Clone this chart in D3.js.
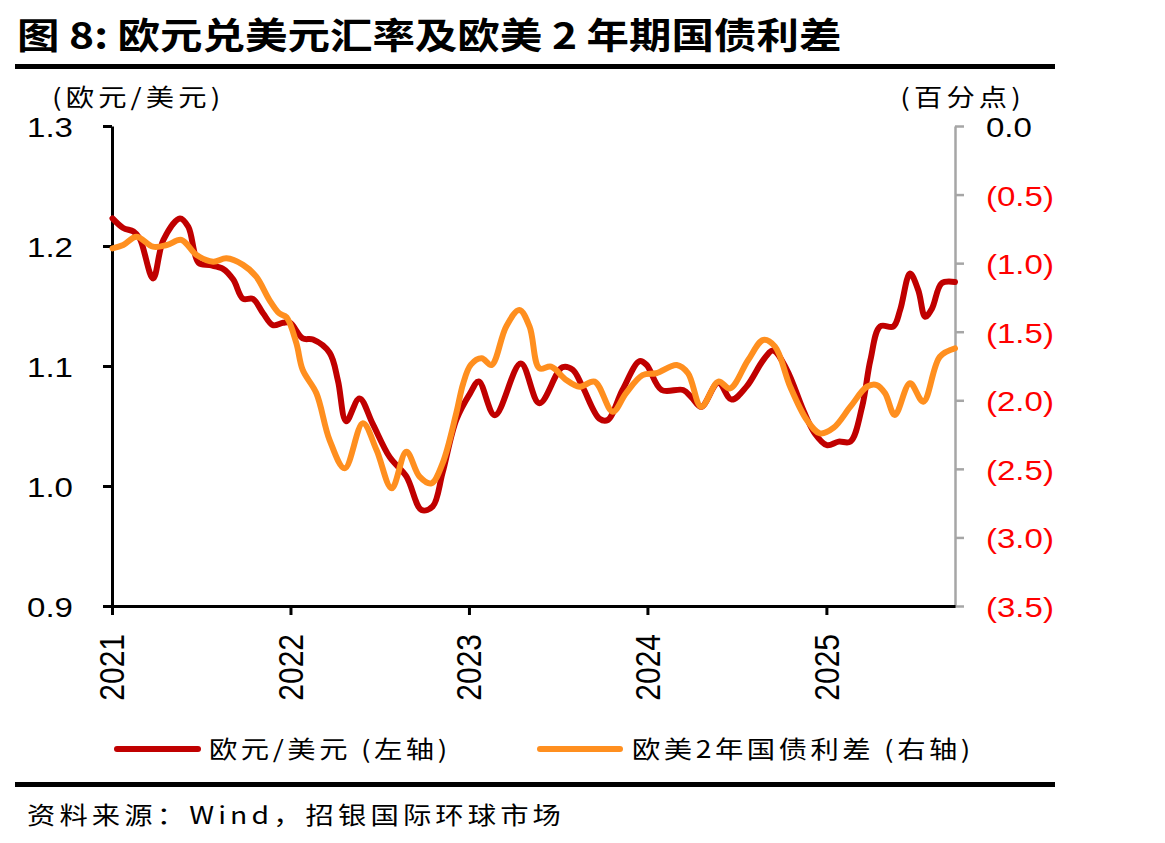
<!DOCTYPE html>
<html>
<head>
<meta charset="utf-8">
<script src="https://cdn.jsdelivr.net/npm/d3@7"></script>
<style>
  html, body { margin: 0; padding: 0; background: #fff; }
  svg { display: block; }
</style>
</head>
<body>
<svg id="chart" width="1165" height="843"></svg>
<script>
// ---------------- DATA ----------------
const titleText = "图 8: 欧元兑美元汇率及欧美 2 年期国债利差";
const leftUnit = "(欧元/美元)";
const rightUnit = "(百分点)";
const sourceText = "资料来源：Wind，招银国际环球市场";
const seriesNames = ["欧元/美元 (左轴)", "欧美2年国债利差 (右轴)"];

const xTickYears = [2021, 2022, 2023, 2024, 2025];
const leftTicks = [0.9, 1.0, 1.1, 1.2, 1.3];
const rightTicks = [0, -0.5, -1.0, -1.5, -2.0, -2.5, -3.0, -3.5];

const fxDates = ["2021-01-02","2021-01-24","2021-02-14","2021-02-27","2021-03-26","2021-04-16","2021-05-20","2021-06-06","2021-06-27","2021-07-20",
"2021-08-16","2021-09-06","2021-09-26","2021-10-16","2021-11-06","2021-11-26","2021-12-17","2021-12-31","2022-01-26","2022-02-16",
"2022-03-22","2022-04-08","2022-04-25","2022-05-22","2022-06-18","2022-07-23","2022-08-26","2022-09-26","2022-10-19","2022-11-08",
"2022-12-06","2023-01-03","2023-01-21","2023-02-23","2023-04-17","2023-05-25","2023-07-11","2023-08-01","2023-08-21","2023-09-25",
"2023-10-12","2023-11-11","2023-12-16","2023-12-30","2024-01-30","2024-03-14","2024-03-31","2024-04-20","2024-05-25","2024-06-21",
"2024-07-22","2024-08-25","2024-09-14","2024-10-12","2024-11-15","2024-12-08","2025-01-02","2025-01-26","2025-02-19","2025-03-15",
"2025-04-01","2025-04-21","2025-05-18","2025-06-01","2025-06-21","2025-07-08","2025-07-22","2025-08-05","2025-08-25","2025-09-21"];
const fxValues = [1.223,1.215,1.212,1.206,1.173,1.205,1.223,1.216,1.186,1.184,
1.181,1.172,1.156,1.156,1.144,1.134,1.136,1.136,1.123,1.122,
1.111,1.088,1.054,1.073,1.052,1.024,1.008,0.980,0.983,1.011,
1.055,1.077,1.087,1.059,1.102,1.069,1.099,1.097,1.083,1.056,
1.055,1.080,1.104,1.101,1.080,1.080,1.074,1.066,1.086,1.072,
1.083,1.105,1.113,1.097,1.063,1.044,1.034,1.037,1.037,1.066,
1.105,1.133,1.133,1.147,1.177,1.163,1.141,1.148,1.169,1.170];

const spreadDates = ["2021-01-02","2021-01-24","2021-02-20","2021-03-26","2021-04-23","2021-05-23","2021-06-23","2021-07-27","2021-08-23","2021-09-26",
"2021-10-23","2021-11-19","2021-12-09","2021-12-24","2022-01-13","2022-01-26","2022-02-23","2022-03-22","2022-04-22","2022-05-29",
"2022-06-26","2022-07-27","2022-08-26","2022-09-22","2022-10-16","2022-11-08","2022-12-06","2022-12-20","2023-01-05","2023-01-27",
"2023-02-16","2023-03-18","2023-04-14","2023-05-05","2023-05-25","2023-06-18","2023-07-19","2023-08-15","2023-09-15","2023-10-22",
"2023-11-18","2023-12-22","2024-01-19","2024-03-01","2024-03-24","2024-04-20","2024-05-25","2024-06-18","2024-07-25","2024-08-25",
"2024-09-18","2024-10-19","2024-11-22","2024-12-19","2025-01-16","2025-02-19","2025-03-25","2025-04-14","2025-05-01","2025-05-21",
"2025-06-21","2025-07-18","2025-08-21","2025-09-21"];
const spreadValues = [-0.892,-0.868,-0.807,-0.880,-0.868,-0.831,-0.941,-0.989,-0.965,-1.013,
-1.099,-1.269,-1.366,-1.395,-1.584,-1.779,-1.949,-2.290,-2.496,-2.168,
-2.363,-2.642,-2.375,-2.557,-2.606,-2.460,-2.095,-1.880,-1.740,-1.694,
-1.743,-1.463,-1.342,-1.463,-1.767,-1.755,-1.852,-1.901,-1.864,-2.083,
-1.949,-1.816,-1.803,-1.743,-1.803,-2.047,-1.864,-1.913,-1.706,-1.560,
-1.609,-1.901,-2.144,-2.241,-2.200,-2.047,-1.901,-1.889,-1.949,-2.107,
-1.876,-2.010,-1.682,-1.621];

const xStart = "2021-01-01";
const xEnd = "2025-09-21";

// ---------------- STYLE ----------------
const W = 1165, H = 843;
const SX = 1.18; // horizontal text stretch seen in the reference
const LAT = "'Liberation Sans', Arial, sans-serif";
const CJK = "'Noto Sans CJK SC', 'Noto Sans', sans-serif";
const RED = "#C00000", ORANGE = "#FF8F1F", AXISGRAY = "#A6A6A6", LABELRED = "#FF0000";

const plot = { left: 112, right: 955, top: 126, bottom: 606 };

const parse = d3.timeParse("%Y-%m-%d");
const fx = fxDates.map((d, i) => ({ date: parse(d), v: fxValues[i] }));
const spread = spreadDates.map((d, i) => ({ date: parse(d), v: spreadValues[i] }));

const svg = d3.select("#chart");
svg.append("rect").attr("width", W).attr("height", H).attr("fill", "#fff");

function stext(parent, x, y, str, opts) {
  const g = parent.append("g").attr("transform", `translate(${x},${y}) scale(${SX},1)`);
  const t = g.append("text").text(str)
    .attr("font-family", opts.family || CJK)
    .attr("font-size", opts.size || 24)
    .attr("font-weight", opts.weight || 400)
    .attr("fill", opts.fill || "#000")
    .attr("text-anchor", opts.anchor || "start")
    .attr("dominant-baseline", "central");
  if (opts.spacing) t.attr("letter-spacing", opts.spacing);
  return t;
}

// Title + rules
stext(svg, 17, 33, titleText, { size: 36, weight: 700 });
svg.append("rect").attr("x", 15).attr("y", 64).attr("width", 1040).attr("height", 5).attr("fill", "#000");
svg.append("rect").attr("x", 15).attr("y", 782).attr("width", 1040).attr("height", 5).attr("fill", "#000");

// Scales
const x = d3.scaleTime().domain([parse(xStart), parse(xEnd)]).range([plot.left, plot.right]);
const yL = d3.scaleLinear().domain([0.9, 1.3]).range([plot.bottom, plot.top]);
const yR = d3.scaleLinear().domain([-3.5, 0]).range([plot.bottom, plot.top]);

// Right axis (gray)
const gR = svg.append("g").attr("transform", `translate(${plot.right},0)`)
  .call(d3.axisRight(yR).tickValues(rightTicks).tickSize(9).tickSizeOuter(0).tickFormat(() => ""));
gR.select(".domain").attr("stroke", AXISGRAY).attr("stroke-width", 2.5);
gR.selectAll(".tick line").attr("stroke", AXISGRAY).attr("stroke-width", 2.5);
rightTicks.forEach(v => {
  const lab = v === 0 ? "0.0" : "(" + d3.format(".1f")(Math.abs(v)) + ")";
  stext(svg, 986, yR(v) + 1, lab, { family: LAT, size: 28, fill: v === 0 ? "#000" : LABELRED });
});

// Left axis
const gL = svg.append("g").attr("transform", `translate(${plot.left},0)`)
  .call(d3.axisLeft(yL).tickValues(leftTicks).tickSize(9).tickSizeOuter(0).tickFormat(() => ""));
gL.select(".domain").attr("stroke", "#000").attr("stroke-width", 3);
gL.selectAll(".tick line").attr("stroke", "#000").attr("stroke-width", 3);
leftTicks.forEach(v => {
  stext(svg, 73, yL(v) + 1, d3.format(".1f")(v), { family: LAT, size: 28, anchor: "end" });
});

// Bottom axis
const yearDates = xTickYears.map(y => new Date(y, 0, 1));
const gB = svg.append("g").attr("transform", `translate(0,${plot.bottom})`)
  .call(d3.axisBottom(x).tickValues(yearDates).tickSize(9).tickSizeOuter(0).tickFormat(() => ""));
gB.select(".domain").attr("stroke", "#000").attr("stroke-width", 3);
gB.selectAll(".tick line").attr("stroke", "#000").attr("stroke-width", 3);
yearDates.forEach((d, i) => {
  const g = svg.append("g").attr("transform", `translate(${x(d)},${plot.bottom + 28}) scale(${SX},1) rotate(-90)`);
  g.append("text").text(String(xTickYears[i]))
    .attr("font-family", LAT).attr("font-size", 30)
    .attr("text-anchor", "end").attr("dominant-baseline", "central").attr("fill", "#000");
});

// Unit labels
stext(svg, 52, 96, leftUnit, { size: 24, spacing: 3.5 });
stext(svg, 1025, 96, rightUnit, { size: 24, anchor: "end", spacing: 3.5 });

// Lines
const lineL = d3.line().x(d => x(d.date)).y(d => yL(d.v)).curve(d3.curveCatmullRom.alpha(0.5));
const lineR = d3.line().x(d => x(d.date)).y(d => yR(d.v)).curve(d3.curveCatmullRom.alpha(0.5));
svg.append("path").datum(fx).attr("d", lineL).attr("fill", "none").attr("stroke", RED)
  .attr("stroke-width", 6).attr("stroke-linejoin", "round").attr("stroke-linecap", "round");
svg.append("path").datum(spread).attr("d", lineR).attr("fill", "none").attr("stroke", ORANGE)
  .attr("stroke-width", 6).attr("stroke-linejoin", "round").attr("stroke-linecap", "round");

// Legend
const legendItems = [
  { name: seriesNames[0], color: RED, x0: 117, x1: 198, tx: 209 },
  { name: seriesNames[1], color: ORANGE, x0: 540, x1: 620, tx: 632 }
];
legendItems.forEach(it => {
  svg.append("line").attr("x1", it.x0).attr("x2", it.x1).attr("y1", 749).attr("y2", 749)
    .attr("stroke", it.color).attr("stroke-width", 6).attr("stroke-linecap", "round");
  stext(svg, it.tx, 748, it.name, { size: 24, spacing: 3 });
});

// Source
stext(svg, 27, 814, sourceText, { size: 24, spacing: 3.5 });
</script>
</body>
</html>
